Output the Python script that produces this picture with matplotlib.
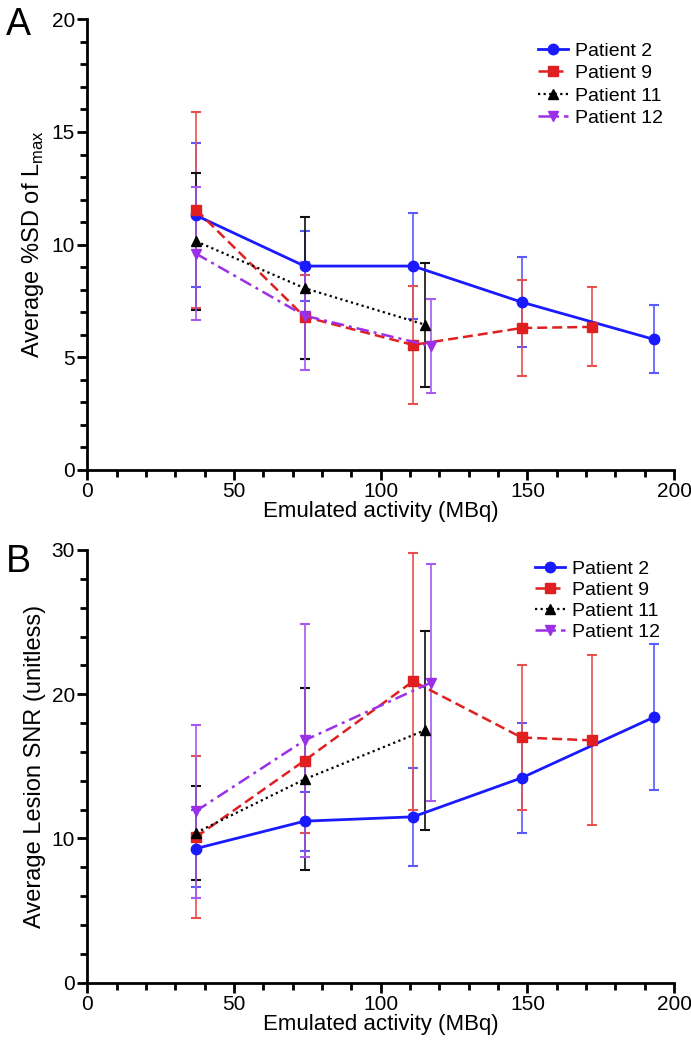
import matplotlib
matplotlib.use("Agg")
import matplotlib.pyplot as plt
from matplotlib.ticker import MultipleLocator

plt.rcParams['font.family'] = ['Liberation Sans', 'DejaVu Sans']

# ---------------- data ----------------
patients = ["Patient 2", "Patient 9", "Patient 11", "Patient 12"]

x_p2 = [37, 74, 111, 148, 193]
x_p9 = [37, 74, 111, 148, 172]
x_p11 = [37, 74, 115]
x_p12 = [37, 74, 117]

# Panel A: Average %SD of Lmax
sd_p2 = [11.3, 9.05, 9.05, 7.45, 5.8]
sd_p2_err = [3.2, 1.55, 2.35, 2.0, 1.5]
sd_p9 = [11.55, 6.8, 5.55, 6.3, 6.35]
sd_p9_err = [4.35, 1.86, 2.6, 2.12, 1.75]
sd_p11 = [10.15, 8.07, 6.45]
sd_p11_err = [3.05, 3.15, 2.75]
sd_p12 = [9.6, 6.85, 5.5]
sd_p12_err = [2.95, 2.4, 2.1]

# Panel B: Average Lesion SNR
snr_p2 = [9.3, 11.2, 11.5, 14.2, 18.4]
snr_p2_err = [2.7, 2.05, 3.4, 3.8, 5.05]
snr_p9 = [10.1, 15.4, 20.9, 17.0, 16.8]
snr_p9_err = [5.6, 5.0, 8.9, 5.0, 5.9]
snr_p11 = [10.4, 14.1, 17.5]
snr_p11_err = [3.25, 6.3, 6.9]
snr_p12 = [11.9, 16.8, 20.8]
snr_p12_err = [6.0, 8.1, 8.2]

colors = ["#1a1aff", "#e02020", "#000000", "#9b30e8"]
ecolors = ["#5a5aff", "#e85050", "#111111", "#a55af0"]
linestyles = ["-", (0, (4, 2)), (0, (1, 1.5)), (0, (5, 2, 1.2, 2))]
markers = ["o", "s", "^", "v"]
msizes = [7.5, 7, 6.5, 7]
lwidths = [2.0, 1.8, 1.6, 1.8]

fig = plt.figure(figsize=(6.91, 10.5), dpi=100)
axA = fig.add_axes([0.1266, 0.5524, 0.849, 0.4292])
axB = fig.add_axes([0.1266, 0.0641, 0.849, 0.4121])


def draw(ax, xs, ys, es, ylim, ymajor, ylabel, leg_anchor, spacing):
    handles = []
    for i in range(4):
        ax.errorbar(xs[i], ys[i], yerr=es[i], fmt='none', ecolor=ecolors[i],
                    elinewidth=1.2, capsize=3.3, capthick=1.5, zorder=2)
        h, = ax.plot(xs[i], ys[i], color=colors[i], linestyle=linestyles[i],
                     marker=markers[i], markersize=msizes[i], linewidth=lwidths[i],
                     label=patients[i], zorder=3)
        handles.append(h)
    ax.set_xlim(0, 200)
    ax.set_ylim(*ylim)
    ax.xaxis.set_major_locator(MultipleLocator(50))
    ax.xaxis.set_minor_locator(MultipleLocator(10))
    ax.yaxis.set_major_locator(MultipleLocator(ymajor))
    ax.yaxis.set_minor_locator(MultipleLocator(ymajor / 5))
    for s in ["top", "right"]:
        ax.spines[s].set_visible(False)
    for s in ["left", "bottom"]:
        ax.spines[s].set_linewidth(2)
    ax.tick_params(which='major', direction='out', length=7, width=2,
                   labelsize=15, pad=2)
    ax.tick_params(which='minor', direction='out', length=5, width=2)
    ax.set_xlabel("Emulated activity (MBq)", fontsize=16, labelpad=0)
    ax.set_ylabel(ylabel, fontsize=17, labelpad=4)
    ax.legend(handles=handles, loc='upper right', frameon=False, fontsize=14,
              handlelength=1.55, handletextpad=0.4, labelspacing=spacing,
              borderaxespad=0.0, bbox_to_anchor=leg_anchor)


draw(axA, [x_p2, x_p9, x_p11, x_p12],
     [sd_p2, sd_p9, sd_p11, sd_p12],
     [sd_p2_err, sd_p9_err, sd_p11_err, sd_p12_err],
     (0, 20), 5, r"Average %SD of L$_\mathregular{max}$", (0.995, 0.967), 0.25)

draw(axB, [x_p2, x_p9, x_p11, x_p12],
     [snr_p2, snr_p9, snr_p11, snr_p12],
     [snr_p2_err, snr_p9_err, snr_p11_err, snr_p12_err],
     (0, 30), 10, "Average Lesion SNR (unitless)", (0.99, 0.995), 0.18)

fig.text(0.008, 0.993, "A", fontsize=27, va='top', ha='left')
fig.text(0.008, 0.482, "B", fontsize=27, va='top', ha='left')

fig.savefig("out.png", dpi=100)
